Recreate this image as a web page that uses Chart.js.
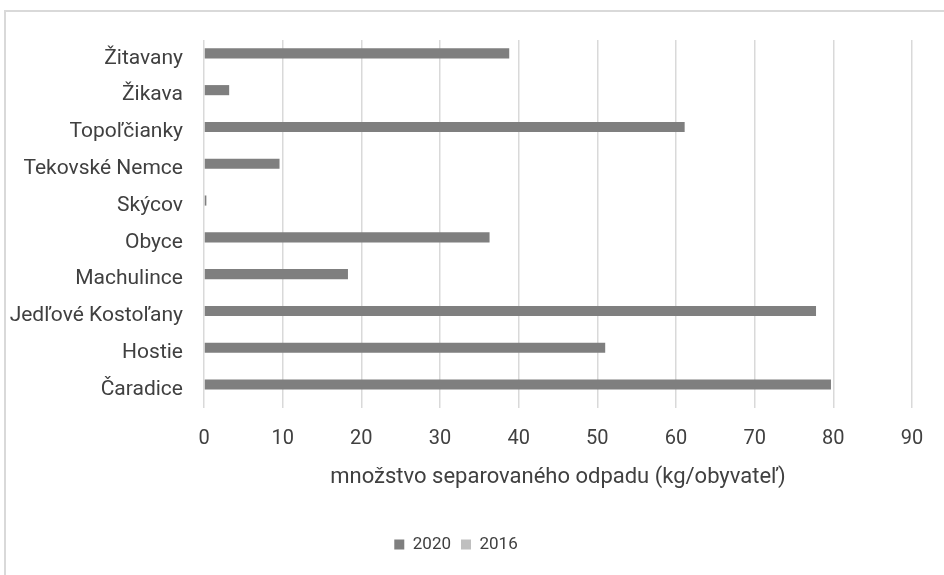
<!DOCTYPE html>
<html>
<head>
<meta charset="utf-8">
<script src="https://cdn.jsdelivr.net/npm/chart.js@4.4.1/dist/chart.umd.min.js"></script>
<style>
    html, body { margin: 0; padding: 0; background: #fff; overflow: hidden; }
    #wrap { position: relative; width: 944px; height: 575px; }
    #frame {
        position: absolute; left: 4px; top: 10px; width: 980px; height: 620px;
        border: 2px solid #d9d9d9; box-sizing: border-box;
    }
    canvas { position: absolute; left: 0; top: 0; }
</style>
</head>
<body>
<div id="wrap">
    <div id="frame"></div>
    <canvas id="chart-waste" width="944" height="575"></canvas>
</div>
<script>
    // Údaje z grafu
    const obce = [
        "Žitavany",
        "Žikava",
        "Topoľčianky",
        "Tekovské Nemce",
        "Skýcov",
        "Obyce",
        "Machulince",
        "Jedľové Kostoľany",
        "Hostie",
        "Čaradice",
    ];
    const values2020 = [38.8, 3.2, 61.1, 9.6, 0.3, 36.3, 18.3, 77.8, 51.0, 79.7];
    const values2016 = [0, 0, 0, 0, 0, 0, 0, 0, 0, 0];
    const xTicks = [0, 10, 20, 30, 40, 50, 60, 70, 80, 90];

    const fontFamily = "Roboto, 'Liberation Sans', sans-serif";
    const textColor = "#404040";

    var ctx = document.getElementById("chart-waste").getContext("2d");

    new Chart(ctx, {
        type: "bar",
        data: {
            labels: obce,
            datasets: [
                {
                    label: "2020",
                    backgroundColor: "#7f7f7f",
                    borderWidth: 0,
                    data: values2020,
                },
                {
                    label: "2016",
                    backgroundColor: "#bfbfbf",
                    borderWidth: 0,
                    data: values2016,
                },
            ],
        },
        options: {
            indexAxis: "y",
            responsive: false,
            animation: false,
            categoryPercentage: 0.55,
            barPercentage: 1.0,
            layout: {
                padding: { top: 40, right: 32, left: 0, bottom: 12 },
            },
            plugins: {
                legend: {
                    display: true,
                    position: "bottom",
                    labels: {
                        boxWidth: 10,
                        boxHeight: 10,
                        padding: 10,
                        color: textColor,
                        font: { size: 17, family: fontFamily },
                    },
                },
                tooltip: { enabled: false },
            },
            scales: {
                x: {
                    min: 0,
                    max: 90,
                    afterBuildTicks: (scale) => {
                        scale.ticks = xTicks.map((v) => ({ value: v }));
                    },
                    afterFit: (scale) => {
                        scale.height = 118;
                    },
                    border: { display: false },
                    grid: {
                        display: true,
                        drawTicks: false,
                        color: "#d9d9d9",
                        lineWidth: 1.5,
                    },
                    ticks: {
                        padding: 19,
                        color: textColor,
                        font: { size: 20, family: fontFamily },
                    },
                    title: {
                        display: true,
                        text: "množstvo separovaného odpadu (kg/obyvateľ)",
                        color: textColor,
                        padding: { top: 8, bottom: 35 },
                        font: { size: 22, family: fontFamily },
                    },
                },
                y: {
                    afterFit: (scale) => {
                        scale.width = 204;
                    },
                    border: { display: false },
                    grid: { display: false, drawTicks: false },
                    ticks: {
                        padding: 21,
                        color: textColor,
                        font: { size: 21, family: fontFamily },
                    },
                },
            },
        },
    });
</script>
</body>
</html>
